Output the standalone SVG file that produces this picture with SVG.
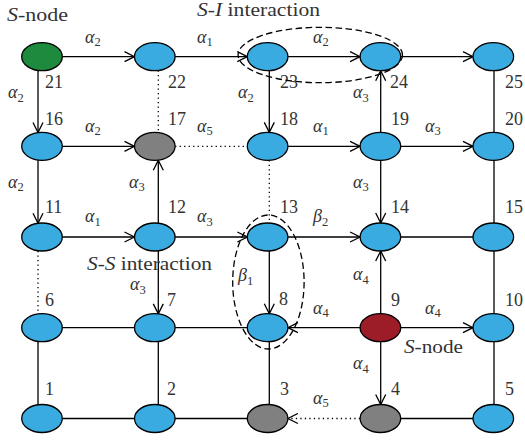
<svg xmlns="http://www.w3.org/2000/svg" width="525" height="440" viewBox="0 0 525 440">
  <defs>
    <style>
      .ln { stroke: #000; stroke-width: 1.3; fill: none; }
      .dot { stroke: #000; stroke-width: 1.3; fill: none; stroke-dasharray: 1.3 3.2; }
      .dash { stroke: #000; stroke-width: 1.3; fill: none; stroke-dasharray: 6.5 3.5; }
      .arr { marker-end: url(#vee); }
      .nd { stroke: #000; stroke-width: 1.3; }
      .blue { fill: #3aabe1; }
      .green { fill: #1e8a3d; }
      .red { fill: #9c1c27; }
      .gray { fill: #808080; }
      text { font-size: 18px; fill: #333; }
      .it { font-style: italic; }
      .sub { font-size: 12.5px; font-style: normal; }
    </style>
    <marker id="vee" viewBox="0 0 12 12" markerUnits="userSpaceOnUse" markerWidth="12" markerHeight="12" refX="11" refY="6" orient="auto">
      <path d="M1,1 L11,6 L1,11" fill="none" stroke="#000" stroke-width="1.3"/>
    </marker>
  </defs>

  <rect width="525" height="440" fill="#fff"/>

  <!-- connectors -->
  <g id="connectors">
    <!-- row 21..25 -->
    <line class="ln arr" x1="62.3" y1="56.7" x2="134.5" y2="56.7"/>
    <line class="ln arr" x1="175.1" y1="56.7" x2="247.3" y2="56.7"/>
    <line class="ln arr" x1="287.9" y1="56.7" x2="360.1" y2="56.7"/>
    <line class="ln arr" x1="400.7" y1="56.7" x2="473" y2="56.7"/>
    <!-- row 16..20 -->
    <line class="ln arr" x1="62.3" y1="146.3" x2="134.5" y2="146.3"/>
    <line class="dot" x1="175.1" y1="146.3" x2="247.3" y2="146.3"/>
    <line class="ln arr" x1="287.9" y1="146.3" x2="360.1" y2="146.3"/>
    <line class="ln arr" x1="400.7" y1="146.3" x2="473" y2="146.3"/>
    <!-- row 11..15 -->
    <line class="ln arr" x1="62.3" y1="237" x2="134.5" y2="237"/>
    <line class="ln arr" x1="175.1" y1="237" x2="247.3" y2="237"/>
    <line class="ln arr" x1="287.9" y1="237" x2="360.1" y2="237"/>
    <line class="ln" x1="400.7" y1="237" x2="473" y2="237"/>
    <!-- row 6..10 -->
    <line class="ln" x1="62.3" y1="327.7" x2="134.5" y2="327.7"/>
    <line class="ln" x1="175.1" y1="327.7" x2="247.3" y2="327.7"/>
    <line class="ln arr" x1="360.1" y1="327.7" x2="287.9" y2="327.7"/>
    <line class="ln arr" x1="400.7" y1="327.7" x2="473" y2="327.7"/>
    <!-- row 1..5 -->
    <line class="ln" x1="62.3" y1="418.5" x2="134.5" y2="418.5"/>
    <line class="ln" x1="175.1" y1="418.5" x2="247.3" y2="418.5"/>
    <line class="dot arr" x1="360.1" y1="418.5" x2="287.9" y2="418.5"/>
    <line class="ln" x1="400.7" y1="418.5" x2="473" y2="418.5"/>

    <!-- column 21..1 -->
    <line class="ln arr" x1="38" y1="70.7" x2="38" y2="132.5"/>
    <line class="ln arr" x1="38" y1="160.3" x2="38" y2="223.2"/>
    <line class="dot" x1="38" y1="251" x2="38" y2="313.9"/>
    <line class="ln" x1="38" y1="341.7" x2="38" y2="404.7"/>
    <!-- column 22..2 -->
    <line class="dot" x1="158.3" y1="70.5" x2="158.3" y2="132.5"/>
    <line class="ln arr" x1="158.3" y1="223" x2="158.3" y2="160.3"/>
    <line class="ln arr" x1="158.3" y1="251" x2="158.3" y2="313.9"/>
    <line class="ln" x1="158.3" y1="341.7" x2="158.3" y2="404.7"/>
    <!-- column 23..3 -->
    <line class="ln arr" x1="269.3" y1="70.7" x2="269.3" y2="132.4"/>
    <line class="dot" x1="269.3" y1="160.3" x2="269.3" y2="223"/>
    <line class="ln arr" x1="269.3" y1="251" x2="269.3" y2="313.8"/>
    <line class="ln" x1="269.3" y1="341.7" x2="269.3" y2="404.6"/>
    <!-- column 24..4 -->
    <line class="ln arr" x1="380.7" y1="132.3" x2="380.7" y2="70.7"/>
    <line class="ln arr" x1="380.7" y1="160.3" x2="380.7" y2="223"/>
    <line class="ln arr" x1="380.7" y1="313.7" x2="380.7" y2="251"/>
    <line class="ln arr" x1="380.7" y1="341.7" x2="380.7" y2="404.5"/>
    <!-- column 25..5 -->
    <line class="ln" x1="494" y1="70.7" x2="494" y2="132.3"/>
    <line class="ln" x1="494" y1="160.3" x2="494" y2="223"/>
    <line class="ln" x1="494" y1="251" x2="494" y2="313.7"/>
    <line class="ln" x1="494" y1="341.7" x2="494" y2="404.5"/>
  </g>

  <g font-family="'Liberation Serif', 'DejaVu Serif', serif">
  <!-- edge labels -->
  <g id="edge-labels">
    <text x="85" y="42.5"><tspan class="it">α</tspan><tspan class="sub" dy="3.5">2</tspan></text>
    <text x="197" y="42.5"><tspan class="it">α</tspan><tspan class="sub" dy="3.5">1</tspan></text>
    <text x="313" y="42.5"><tspan class="it">α</tspan><tspan class="sub" dy="3.5">2</tspan></text>

    <text x="85" y="131.5"><tspan class="it">α</tspan><tspan class="sub" dy="3.5">2</tspan></text>
    <text x="197" y="131.5"><tspan class="it">α</tspan><tspan class="sub" dy="3.5">5</tspan></text>
    <text x="313" y="131.5"><tspan class="it">α</tspan><tspan class="sub" dy="3.5">1</tspan></text>
    <text x="425" y="131.5"><tspan class="it">α</tspan><tspan class="sub" dy="3.5">3</tspan></text>

    <text x="85" y="222"><tspan class="it">α</tspan><tspan class="sub" dy="3.5">1</tspan></text>
    <text x="197" y="222"><tspan class="it">α</tspan><tspan class="sub" dy="3.5">3</tspan></text>
    <text x="313" y="222"><tspan class="it">β</tspan><tspan class="sub" dy="3.5">2</tspan></text>

    <text x="313" y="313.5"><tspan class="it">α</tspan><tspan class="sub" dy="3.5">4</tspan></text>
    <text x="425" y="313.5"><tspan class="it">α</tspan><tspan class="sub" dy="3.5">4</tspan></text>

    <text x="313" y="403.5"><tspan class="it">α</tspan><tspan class="sub" dy="3.5">5</tspan></text>

    <text x="8" y="98"><tspan class="it">α</tspan><tspan class="sub" dy="3.5">2</tspan></text>
    <text x="8" y="187.5"><tspan class="it">α</tspan><tspan class="sub" dy="3.5">2</tspan></text>
    <text x="129" y="187.5"><tspan class="it">α</tspan><tspan class="sub" dy="3.5">3</tspan></text>
    <text x="130" y="290"><tspan class="it">α</tspan><tspan class="sub" dy="3.5">3</tspan></text>
    <text x="238" y="98"><tspan class="it">α</tspan><tspan class="sub" dy="3.5">2</tspan></text>
    <text x="238" y="281"><tspan class="it">β</tspan><tspan class="sub" dy="3.5">1</tspan></text>
    <text x="353" y="98"><tspan class="it">α</tspan><tspan class="sub" dy="3.5">3</tspan></text>
    <text x="353" y="187.5"><tspan class="it">α</tspan><tspan class="sub" dy="3.5">3</tspan></text>
    <text x="353" y="280"><tspan class="it">α</tspan><tspan class="sub" dy="3.5">4</tspan></text>
    <text x="353" y="369"><tspan class="it">α</tspan><tspan class="sub" dy="3.5">4</tspan></text>
  </g>

  <!-- nodes -->
  <g id="node-21"><ellipse class="nd green" cx="42" cy="56.7" rx="20.3" ry="14"/><text x="45" y="88">21</text></g>
  <g id="node-22"><ellipse class="nd blue" cx="154.8" cy="56.7" rx="20.3" ry="14"/><text x="168" y="88">22</text></g>
  <g id="node-23"><ellipse class="nd blue" cx="267.6" cy="56.7" rx="20.3" ry="14"/><text x="280" y="87.5">23</text></g>
  <g id="node-24"><ellipse class="nd blue" cx="380.4" cy="56.7" rx="20.3" ry="14"/><text x="390" y="88">24</text></g>
  <g id="node-25"><ellipse class="nd blue" cx="493.3" cy="56.7" rx="20.3" ry="14"/><text x="505" y="88">25</text></g>

  <g id="node-16"><ellipse class="nd blue" cx="42" cy="146.3" rx="20.3" ry="14"/><text x="45" y="125">16</text></g>
  <g id="node-17"><ellipse class="nd gray" cx="154.8" cy="146.3" rx="20.3" ry="14"/><text x="168" y="124.5">17</text></g>
  <g id="node-18"><ellipse class="nd blue" cx="267.6" cy="146.3" rx="20.3" ry="14"/><text x="280" y="124.5">18</text></g>
  <g id="node-19"><ellipse class="nd blue" cx="380.4" cy="146.3" rx="20.3" ry="14"/><text x="391" y="125">19</text></g>
  <g id="node-20"><ellipse class="nd blue" cx="493.3" cy="146.3" rx="20.3" ry="14"/><text x="505" y="125">20</text></g>

  <g id="node-11"><ellipse class="nd blue" cx="42" cy="237" rx="20.3" ry="14"/><text x="45" y="213">11</text></g>
  <g id="node-12"><ellipse class="nd blue" cx="154.8" cy="237" rx="20.3" ry="14"/><text x="168" y="213">12</text></g>
  <g id="node-13"><ellipse class="nd blue" cx="267.6" cy="237" rx="20.3" ry="14"/><text x="280" y="213">13</text></g>
  <g id="node-14"><ellipse class="nd blue" cx="380.4" cy="237" rx="20.3" ry="14"/><text x="391" y="213">14</text></g>
  <g id="node-15"><ellipse class="nd blue" cx="493.3" cy="237" rx="20.3" ry="14"/><text x="505" y="213">15</text></g>

  <g id="node-6"><ellipse class="nd blue" cx="42" cy="327.7" rx="20.3" ry="14"/><text x="45" y="305.5">6</text></g>
  <g id="node-7"><ellipse class="nd blue" cx="154.8" cy="327.7" rx="20.3" ry="14"/><text x="167" y="305.5">7</text></g>
  <g id="node-8"><ellipse class="nd blue" cx="267.6" cy="327.7" rx="20.3" ry="14"/><text x="279" y="305">8</text></g>
  <g id="node-9"><ellipse class="nd red" cx="380.4" cy="327.7" rx="20.3" ry="14"/><text x="391" y="305.5">9</text></g>
  <g id="node-10"><ellipse class="nd blue" cx="493.3" cy="327.7" rx="20.3" ry="14"/><text x="505" y="305.5">10</text></g>

  <g id="node-1"><ellipse class="nd blue" cx="42" cy="418.5" rx="20.3" ry="14"/><text x="45" y="395">1</text></g>
  <g id="node-2"><ellipse class="nd blue" cx="154.8" cy="418.5" rx="20.3" ry="14"/><text x="167" y="395">2</text></g>
  <g id="node-3"><ellipse class="nd gray" cx="267.6" cy="418.5" rx="20.3" ry="14"/><text x="280" y="395">3</text></g>
  <g id="node-4"><ellipse class="nd gray" cx="380.4" cy="418.5" rx="20.3" ry="14"/><text x="391" y="395">4</text></g>
  <g id="node-5"><ellipse class="nd blue" cx="493.3" cy="418.5" rx="20.3" ry="14"/><text x="505" y="395">5</text></g>

  <!-- interaction regions -->
  <g id="si-interaction">
    <ellipse class="dash" cx="320.3" cy="55" rx="82.2" ry="27.7"/>
    <text x="197" y="15.5" textLength="123" lengthAdjust="spacingAndGlyphs"><tspan class="it">S</tspan>-<tspan class="it">I</tspan> interaction</text>
  </g>
  <g id="ss-interaction">
    <ellipse class="dash" cx="268.4" cy="282" rx="35.7" ry="67"/>
    <text x="87" y="270" textLength="125" lengthAdjust="spacingAndGlyphs"><tspan class="it">S</tspan>-<tspan class="it">S</tspan> interaction</text>
  </g>

  <!-- captions -->
  <g id="captions">
    <text x="7" y="20.7" textLength="61" lengthAdjust="spacingAndGlyphs"><tspan class="it">S</tspan>-node</text>
    <text x="404" y="352.5" textLength="59" lengthAdjust="spacingAndGlyphs"><tspan class="it">S</tspan>-node</text>
  </g>
  </g>
</svg>
